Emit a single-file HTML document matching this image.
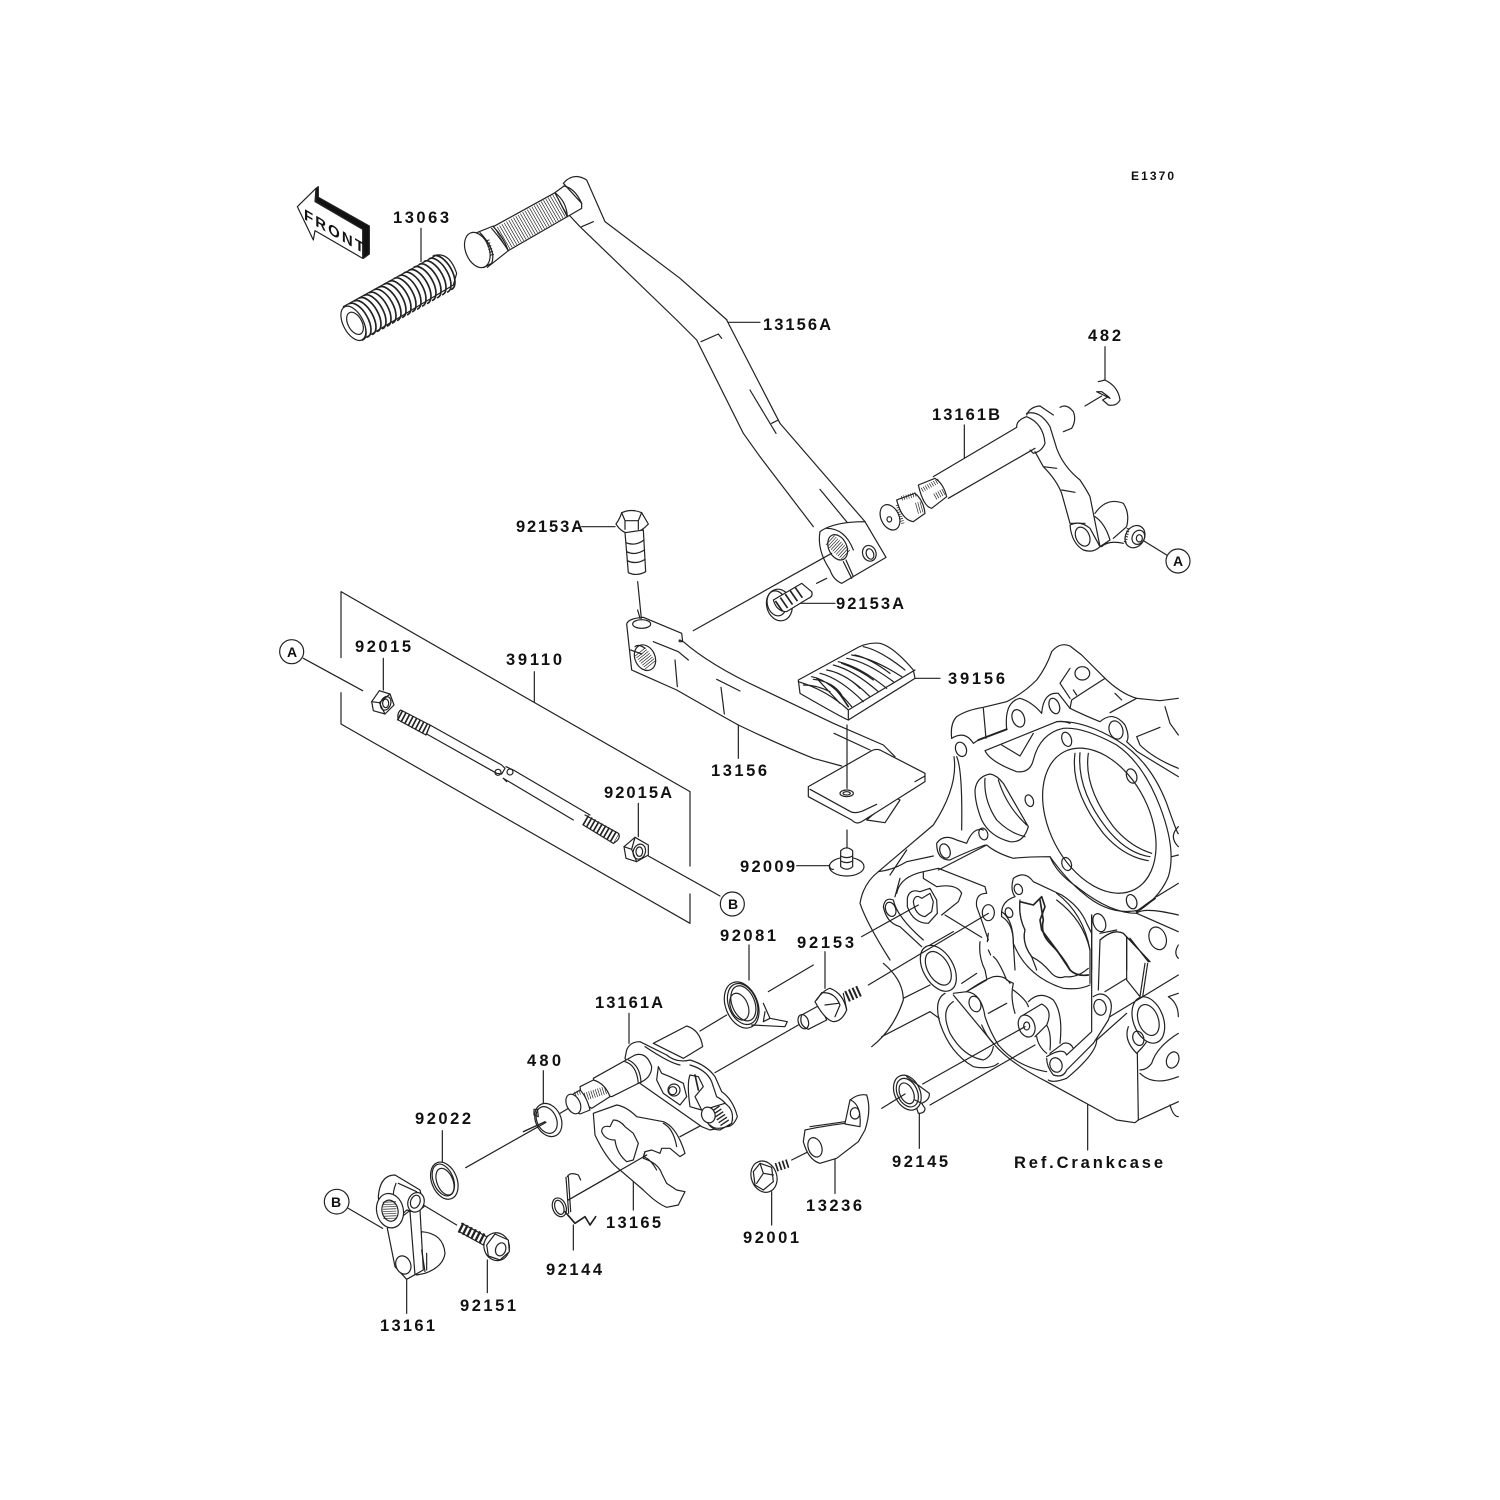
<!DOCTYPE html>
<html><head><meta charset="utf-8"><title>Gear Change Mechanism</title>
<style>
html,body{margin:0;padding:0;background:#fff}
svg{display:block;filter:blur(.35px)}
.p{fill:none;stroke:#222;stroke-width:3.6;stroke-linejoin:round;stroke-linecap:round}
.w{fill:#fff}
.p .h{fill:none;stroke:#222;stroke-linecap:butt}
text{font-family:"Liberation Sans",sans-serif;font-weight:bold;font-size:16.5px;fill:#111;stroke:none}
</style></head><body>
<svg xmlns="http://www.w3.org/2000/svg" width="1500" height="1500" viewBox="0 0 1500 1500">
<defs><path id="rb" d="M0,0a28,57 -30 0 1 55,100" fill="none" stroke="#222" stroke-width="5"/></defs>

<!-- crankcase (zoom 3) -->
<g transform="translate(850,630) scale(.33333)" class="p">
<path d="M305,325Q300,280 320,260Q350,240 400,232L470,215Q520,190 560,150Q590,110 605,65Q630,35 660,48L695,75L760,140Q810,190 860,205L930,212L985,205"/>
<path d="M400,235L408,325"/><path d="M385,330L470,298" stroke-width="6"/>
<path d="M305,325Q345,300 370,340L385,330M470,298Q462,215 510,205Q545,215 575,250Q580,185 625,190L660,235Q700,255 750,275Q790,240 825,285Q840,320 830,335L862,365L985,440"/>
<path d="M660,235L665,210L695,190L765,145M660,115L630,160L660,205M670,180L680,195M795,190L815,210M780,248L860,205M860,320L930,292M860,320L870,345Q910,385 985,415M945,230L960,280L985,315"/>
<ellipse cx="333" cy="358" rx="16" ry="22" transform="rotate(-20 333 358)"/><ellipse cx="505" cy="265" rx="18" ry="27" transform="rotate(-20 505 265)"/><ellipse cx="613" cy="228" rx="15" ry="24" transform="rotate(-20 613 228)"/><ellipse cx="697" cy="130" rx="22" ry="20"/><ellipse cx="798" cy="300" rx="20" ry="28" transform="rotate(-20 798 300)"/><ellipse cx="650" cy="328" rx="14" ry="22" transform="rotate(-20 650 328)"/><ellipse cx="845" cy="438" rx="15" ry="22" transform="rotate(-20 845 438)"/><ellipse cx="538" cy="512" rx="12" ry="18" transform="rotate(-20 538 512)"/><ellipse cx="400" cy="612" rx="13" ry="18" transform="rotate(-20 400 612)"/><ellipse cx="285" cy="663" rx="15" ry="22" transform="rotate(-20 285 663)"/><ellipse cx="650" cy="702" rx="14" ry="20" transform="rotate(-20 650 702)"/><ellipse cx="845" cy="815" rx="15" ry="22" transform="rotate(-20 845 815)"/><ellipse cx="748" cy="878" rx="18" ry="28" transform="rotate(-20 748 878)"/><ellipse cx="923" cy="925" rx="25" ry="35" transform="rotate(-20 923 925)"/><ellipse cx="122" cy="838" rx="15" ry="22" transform="rotate(-20 122 838)"/><ellipse cx="505" cy="778" rx="12" ry="16" transform="rotate(-20 505 778)"/><ellipse cx="477" cy="848" rx="11" ry="15" transform="rotate(-20 477 848)"/>
<path d="M405,362L620,275Q640,272 660,280M405,362Q420,395 500,425Q540,430 550,390Q570,310 640,295Q700,290 800,345Q880,400 930,530Q980,660 955,740Q930,800 870,840Q780,860 700,790Q650,750 600,680Q530,680 490,685Q440,670 410,645L265,720"/>
<path d="M860,845L915,805" stroke-width="6"/>
<path d="M455,345L510,378L550,310"/>
<path d="M600,680Q620,730 680,770Q780,850 860,850L985,905"/>
<path d="M620,275Q700,270 800,330Q900,390 950,520Q985,620 985,610M985,590Q955,620 985,650M965,680L985,675M920,800L985,760"/>
<ellipse cx="748" cy="572" rx="150" ry="232" transform="rotate(-27 748 572)"/>
<path d="M675,370Q660,480 760,610Q820,680 895,692M690,368Q680,480 770,595Q830,670 900,680M715,370Q700,470 790,590Q840,650 905,670"/>
<path d="M375,480Q380,440 420,432Q440,435 460,460L535,590Q520,640 480,635Q420,620 395,570Q375,520 375,480ZM405,445Q400,510 440,570Q480,610 525,620M445,450Q470,530 530,585"/>
<path d="M320,380Q338,420 335,600M312,380Q325,470 250,585L85,725M260,640Q280,610 320,630L350,640Q370,590 400,600M260,640Q260,690 300,690Q340,670 405,645M85,725Q130,720 170,695L250,678M120,735L170,660"/>
<path d="M85,725Q40,760 30,820Q50,880 120,990"/>
<path d="M140,790Q150,740 220,725L265,715L405,770L410,790Q375,790 380,830Q395,870 415,930M220,725L220,745L260,770Q320,760 335,790L325,815L275,855"/>
<path d="M172,805Q178,775 210,785L240,775L260,810L262,850L235,880Q190,880 172,830Z"/><path d="M190,815Q195,790 215,805L240,790L250,815L245,845L225,860Q195,855 190,815Z"/>
<path d="M100,830Q105,800 130,810Q140,860 220,930M100,830Q110,880 150,890L215,950M135,800L150,745"/>
<path d="M35,920L205,825M285,855L395,922"/>
<ellipse cx="415" cy="848" rx="18" ry="24"/>
<path d="M490,745Q525,720 550,755L635,795Q690,830 710,880L725,910M490,745Q480,780 495,800Q450,815 455,860Q490,880 490,940L495,1020M510,815Q505,860 525,900Q515,940 545,980L560,1020"/>
<path d="M510,815L550,825L575,800L585,830L570,870L575,900L620,960L660,1020" stroke-width="5"/>
<path d="M620,790Q700,850 720,960M725,855L725,1020M750,930Q790,895 820,910L900,995M830,920L830,1020M840,925L895,995"/>
</g>

<!-- crankcase (zoom 4) -->
<g transform="translate(850,900) scale(.33333)" class="p">
<ellipse cx="265" cy="205" rx="45" ry="75" transform="rotate(-30 265 205)"/><ellipse cx="265" cy="205" rx="32" ry="55" transform="rotate(-30 265 205)"/>
<path d="M55,255L415,40M240,135L310,95M335,250L380,220M350,275L410,240M415,340L470,310"/>
<path d="M95,410L240,335M160,295L240,255M160,300Q130,390 65,440M100,190Q160,240 160,300"/>
<path d="M285,280Q250,300 270,370Q300,460 370,500Q420,510 445,490M310,305Q270,330 300,400Q340,470 400,480Q425,470 430,440"/>
<path d="M310,285L430,430Q480,490 590,545L800,660L855,668L865,660L985,605"/>
<path d="M445,435Q500,500 590,515M240,335L268,355M395,375Q410,410 430,430"/>
<ellipse cx="375" cy="312" rx="17" ry="24" transform="rotate(-20 375 312)"/>
<path d="M310,280L350,275Q395,280 405,350Q420,395 445,435"/>
<path d="M495,340Q480,290 490,250L470,240Q445,180 430,170M415,100L412,125M415,150L422,165M390,125Q385,170 405,210L410,235M350,275Q400,240 430,230Q465,225 480,250M490,270Q530,300 535,320"/>
<path d="M520,345L575,312Q610,330 590,375L555,410M535,305Q570,270 610,300Q640,340 630,430M590,375Q605,400 600,450M560,410Q565,440 590,460"/>
<ellipse class="w" cx="530" cy="378" rx="24" ry="34" transform="rotate(-20 530 378)"/><ellipse cx="530" cy="378" rx="9" ry="12"/>
<path d="M240,615L555,435"/>
<ellipse cx="618" cy="495" rx="18" ry="22" transform="rotate(-20 618 495)"/>
<path d="M590,475Q590,500 610,525Q640,535 650,510L730,430Q750,400 775,360Q790,320 780,300Q760,270 730,290M590,470Q640,440 650,465L725,395L725,45M600,460L640,430Q660,425 670,445"/>
<ellipse cx="750" cy="322" rx="18" ry="24" transform="rotate(-15 750 322)"/>
<path d="M750,120Q790,85 820,100L900,185M830,110L830,240L870,290M885,190L870,290M893,190L878,290M840,115L895,185M765,275L830,235M780,350L985,225M750,120L745,270"/>
<path d="M830,340L740,420Q740,460 650,535Q610,550 595,540"/>
<ellipse cx="895" cy="360" rx="45" ry="72" transform="rotate(-20 895 360)"/><ellipse cx="895" cy="360" rx="30" ry="48" transform="rotate(-20 895 360)"/>
<path d="M835,380Q820,420 860,460Q880,440 890,425"/><ellipse cx="865" cy="415" rx="16" ry="22" transform="rotate(-20 865 415)"/>
<path d="M862,460L865,660M985,400Q920,440 905,490Q890,510 870,510M870,520Q910,560 985,530"/>
<ellipse cx="968" cy="480" rx="18" ry="25" transform="rotate(20 968 480)"/>
<path d="M985,280L955,290Q985,310 985,350M960,615Q970,650 985,650"/>
<path d="M455,35Q490,60 490,130Q530,230 640,265Q690,270 720,255M620,0Q700,60 720,150L720,250M510,0Q505,50 525,90Q515,130 545,170Q575,185 600,215Q620,240 645,230Q680,235 715,205"/>
<path d="M570,0L580,60Q570,100 600,130Q640,170 660,210Q680,230 715,225" stroke-width="5"/>
<path d="M985,135Q970,160 985,175M985,45Q880,20 860,40M750,100L800,90"/>
<path d="M713,615L713,750"/>
<!-- 92145 spring -->
<ellipse class="w" cx="172" cy="578" rx="38" ry="55" transform="rotate(-25 172 578)"/><ellipse cx="172" cy="578" rx="30" ry="45" transform="rotate(-25 172 578)"/><ellipse cx="170" cy="580" rx="20" ry="33" transform="rotate(-25 170 580)"/>
<path d="M170,530L238,580Q240,600 215,610L195,600M215,610L225,625Q225,640 205,640L200,625"/>
<path d="M95,625L165,582M218,552L525,380M208,640L208,745"/>
</g>

<!-- zoom 1: arrow, grip, peg -->
<g transform="translate(280,160) scale(.33333)" class="p">
<path d="M108,85L115,80L115,112L268,198L268,282L250,295L248,208L108,125Z" fill="#111"/>
<path class="w" d="M52,140L108,85L105,125L248,208L248,295L105,212L100,240Z"/>
<path d="M423,205L423,305"/>
<path class="w" d="M190,440L470,285Q510,280 530,340L520,375L245,540Q190,500 190,440Z"/>
<use href="#rb" x="193" y="440"/><use href="#rb" x="208" y="431"/><use href="#rb" x="223" y="423"/><use href="#rb" x="238" y="414"/><use href="#rb" x="253" y="406"/><use href="#rb" x="268" y="398"/><use href="#rb" x="283" y="389"/><use href="#rb" x="298" y="381"/><use href="#rb" x="313" y="372"/><use href="#rb" x="328" y="364"/><use href="#rb" x="343" y="355"/><use href="#rb" x="358" y="347"/><use href="#rb" x="373" y="338"/><use href="#rb" x="388" y="330"/><use href="#rb" x="403" y="321"/><use href="#rb" x="418" y="313"/><use href="#rb" x="433" y="304"/><use href="#rb" x="448" y="296"/><use href="#rb" x="460" y="288"/>
<ellipse class="w" cx="220" cy="490" rx="30" ry="56" transform="rotate(-28 220 490)"/><ellipse class="w" cx="225" cy="490" rx="21" ry="36" transform="rotate(-28 225 490)"/>
<!-- peg -->
<path d="M590,218L640,198M622,322L685,272M635,205Q665,240 685,272"/>
<ellipse class="w" cx="592" cy="270" rx="35" ry="55" transform="rotate(-22 592 270)"/>
<path d="M600,218Q650,270 635,310L610,323"/>
<path d="M640,200L825,98L862,170L685,272Q670,230 640,200"/>
<line x1="663" y1="238" x2="845" y2="133" class="h" stroke-width="76" stroke-dasharray="2 6"/>
<path d="M825,98Q860,125 862,170M825,98L852,78Q885,85 905,130L905,145L862,170"/>
<path d="M850,70Q880,35 920,60L975,185L1200,355L1341,480M850,70L905,130M870,168L900,200L1190,480M905,200L940,185"/>
<line x1="622" y1="240" x2="638" y2="290" class="h" stroke-width="12" stroke-dasharray="3 6"/>
</g>

<!-- zoom 2: lever, shaft -->
<g transform="translate(600,320) scale(.33333)" class="p">
<path d="M230,0L290,60L430,340L480,410L640,620M380,0L540,310L795,605"/>
<path d="M303,65L355,42M365,55L355,42M450,210L528,340M515,310L535,300M660,508L762,632L795,605"/>
<path class="w" d="M660,635Q700,605 795,605L858,712L725,790Q700,780 690,750Q650,690 660,635Z"/>
<path d="M680,625Q735,625 760,690"/>
<ellipse class="w" cx="713" cy="682" rx="27" ry="40" transform="rotate(-25 713 682)"/>
<line x1="690" y1="660" x2="738" y2="705" class="h" stroke-width="38" stroke-dasharray="2 5"/>
<ellipse cx="808" cy="700" rx="20" ry="24" transform="rotate(-20 808 700)"/><ellipse cx="810" cy="702" rx="11" ry="16" transform="rotate(-20 810 702)"/>
<path d="M730,725L755,775M738,720L760,770"/>
<path d="M280,932L695,700M650,790L680,775M385,7L480,7"/>
<path d="M113,785L124,895M600,850L705,850"/>
<!-- 92153A horizontal -->
<ellipse class="w" cx="538" cy="855" rx="38" ry="48" transform="rotate(-15 538 855)"/><ellipse cx="530" cy="850" rx="28" ry="38" transform="rotate(-15 530 850)"/>
<path class="w" d="M520,840L605,790L635,815Q640,830 625,835L560,875Q530,875 520,840Z"/>
<line x1="535" y1="860" x2="600" y2="815" class="h" stroke-width="38" stroke-dasharray="5 13"/>
<!-- top-left 92153A vertical -->
<path d="M-55,620L45,620"/>
<path class="w" d="M48,612Q60,595 65,578Q95,565 125,578Q135,595 145,612Q120,640 90,640Q65,640 48,612Z"/>
<path d="M65,578L75,602L115,602L125,578M75,602L75,628M115,602L115,628"/>
<path class="w" d="M75,638L130,630L137,755Q110,770 85,758Z"/>
<path d="M78,668Q105,680 132,660M80,695Q105,708 133,690M82,722Q108,735 135,718"/>
</g>

<!-- zoom 9: 13161B -->
<g transform="translate(860,320) scale(.33333)" class="p">
<path d="M313,315L313,415M220,470L470,322M265,535L525,385M735,80L735,180M675,258L725,228M850,662L920,705"/>
<path d="M715,185L735,180Q775,200 780,240Q770,260 745,255L728,240L745,230L750,235L730,225L710,215L725,215L745,230"/>
<path class="w" d="M175,495L225,475Q250,490 260,530L215,565Q190,560 175,495Z"/>
<line x1="186" y1="510" x2="240" y2="480" class="h" stroke-width="14" stroke-dasharray="2 5"/>
<line x1="225" y1="530" x2="252" y2="515" class="h" stroke-width="20" stroke-dasharray="2 5"/>
<path class="w" d="M110,540L165,520Q190,540 195,580L160,605Q125,600 110,540Z"/>
<line x1="125" y1="535" x2="170" y2="522" class="h" stroke-width="14" stroke-dasharray="2 5"/>
<line x1="170" y1="565" x2="188" y2="560" class="h" stroke-width="34" stroke-dasharray="2 5"/>
<ellipse class="w" cx="90" cy="592" rx="27" ry="40" transform="rotate(-25 90 592)"/><ellipse cx="88" cy="598" rx="7" ry="8"/>
<line x1="112" y1="555" x2="130" y2="615" class="h" stroke-width="10" stroke-dasharray="2 5"/>
<path d="M470,320Q470,300 500,290Q550,310 555,370Q545,395 520,400L510,390"/>
<path d="M500,285Q510,260 540,258L580,285M600,262Q620,250 640,275Q650,300 635,325L610,335"/>
<path d="M500,280Q540,270 570,320L590,385Q610,440 660,480Q680,510 690,530L720,680"/>
<path d="M525,395L550,440Q590,480 605,520L630,610M550,440L590,445M605,510L645,517M632,610L675,610"/>
<path class="w" d="M630,615Q660,600 690,625L720,680Q700,700 670,690Q635,670 630,615Z"/>
<ellipse cx="668" cy="650" rx="20" ry="30" transform="rotate(-25 668 650)"/>
<path d="M705,580Q740,530 790,550Q810,580 800,620L760,655M705,590Q735,610 750,660L720,680M725,680Q745,660 790,670"/>
<ellipse class="w" cx="825" cy="650" rx="28" ry="35" transform="rotate(30 825 650)"/><ellipse class="w" cx="835" cy="652" rx="18" ry="22" transform="rotate(30 835 652)"/><ellipse cx="838" cy="655" rx="9" ry="11"/>
<line x1="805" y1="625" x2="795" y2="670" class="h" stroke-width="9" stroke-dasharray="3 5"/>
</g>

<!-- zoom 8: rod and bracket -->
<g transform="translate(270,590) scale(.33333)" class="p">
<path d="M213,203L213,5L1260,605L1260,828M1260,912L1260,1000L213,402L213,308"/>
<path d="M100,205L278,302M340,205L340,300M793,245L793,335M1105,640L1105,740M1135,798L1350,918"/>
<circle cx="65" cy="185" r="36" class="w"/><circle cx="1387" cy="942" r="36" class="w"/>
<path class="w" d="M305,335L328,302L360,312L372,345L345,372L310,362Z"/><path d="M305,335L328,338L345,372M328,338L360,312"/><ellipse cx="347" cy="340" rx="15" ry="21" transform="rotate(20 347 340)"/><ellipse cx="347" cy="340" rx="9" ry="13"/>
<path d="M392,360L480,405L468,435L385,390Q380,370 392,360ZM470,432L480,405L695,525L705,535L695,552L680,550L470,432"/>
<line x1="388" y1="375" x2="475" y2="421" class="h" stroke-width="34" stroke-dasharray="5 7"/>
<circle cx="684" cy="547" r="9"/><circle cx="720" cy="546" r="9"/>
<path d="M708,530L730,540L960,675M700,565L910,690"/>
<path d="M700,565L710,575"/>
<path d="M945,675L1045,730Q1055,745 1030,760L940,705"/>
<line x1="945" y1="690" x2="1040" y2="745" class="h" stroke-width="34" stroke-dasharray="5 7"/>
<path class="w" d="M1062,770L1095,742L1135,765L1135,795L1100,815L1068,805Z"/><path d="M1062,770L1085,778L1100,815M1085,778L1095,742"/><ellipse cx="1108" cy="785" rx="18" ry="23" transform="rotate(20 1108 785)"/><ellipse cx="1108" cy="785" rx="10" ry="14"/>
</g>

<!-- zoom 7: lower lever, foot plate, rubber -->
<g transform="translate(600,610) scale(.33333)" class="p">
<path d="M80,42Q85,25 130,22L245,70L248,95Q235,85 238,95L250,95Q330,165 480,235L700,340L850,405L885,440M80,42L95,180L230,240L370,320L415,345Q540,405 640,445L725,468"/>
<ellipse cx="125" cy="42" rx="27" ry="13"/>
<ellipse class="w" cx="135" cy="143" rx="30" ry="40" transform="rotate(-25 135 143)"/>
<line x1="120" y1="125" x2="152" y2="165" class="h" stroke-width="40" stroke-dasharray="2 5"/>
<path d="M92,120L125,132M105,110Q115,100 135,115M160,95L235,125L265,150M225,150L232,230M350,208L420,243M363,232L373,312M702,370L810,420M415,345L415,445M113,0L120,25"/>
<path class="w" d="M800,630L855,638L900,570L880,560Z"/>
<path class="w" d="M625,530L810,425Q825,415 840,420L975,490L975,515L785,635Q770,645 755,630L625,560Z"/>
<path d="M630,538L752,605Q765,612 790,602L830,583M945,515L975,498"/>
<ellipse cx="740" cy="550" rx="20" ry="10"/><ellipse cx="740" cy="550" rx="11" ry="5"/>
<path d="M741,345L741,535M741,660L741,715M590,767L690,767M945,205L1020,205"/>
<!-- rubber -->
<path class="w" d="M595,210L760,120Q800,95 840,100Q880,110 940,180L945,205L745,330Q730,325 600,250Z"/>
<path d="M595,215Q680,240 745,300L745,330M745,300L945,180"/>
<path d="M635,200Q690,210 755,290M640,208Q700,215 725,255M680,180Q740,190 810,260M690,182Q740,195 780,235M715,155Q780,170 860,235M725,160Q780,180 820,210M755,135Q820,145 905,200M765,135Q810,145 870,190M790,110Q840,120 915,180M610,225Q650,225 690,245M650,205L720,280M660,190Q720,205 790,275M700,165Q760,180 835,245M740,145Q800,155 880,215"/>
<path d="M700,230Q720,250 745,290" stroke-width="5"/>
<!-- 92009 -->
<ellipse class="w" cx="740" cy="770" rx="52" ry="28"/>
<path d="M688,765Q690,780 700,778"/>
<path class="w" d="M722,722Q740,705 758,722L758,770Q740,785 722,770Z"/>
<path d="M722,738Q740,748 758,738M722,753Q740,763 758,753"/>
</g>

<!-- zoom 5: shift parts -->
<g transform="translate(530,950) scale(.33333)" class="p">
<path d="M510,243L590,195M555,368L805,225M715,125L850,45M450,560L525,520M115,750L350,615M90,490L115,475M-20,545L45,515M785,630L835,605"/>
<path d="M297,190L297,280M40,362L40,465M310,680L310,780M915,625L915,730M725,725L725,825M130,825L130,900M657,-15L657,90M885,5L885,115"/>
<!-- spring 92081 -->
<ellipse class="w" cx="635" cy="165" rx="48" ry="72" transform="rotate(-22 635 165)"/>
<ellipse cx="638" cy="162" rx="42" ry="64" transform="rotate(-22 638 162)"/><ellipse cx="640" cy="160" rx="34" ry="55" transform="rotate(-22 640 160)"/><ellipse cx="628" cy="170" rx="26" ry="42" transform="rotate(-22 628 170)"/>
<path d="M700,160L720,205L772,215L765,230L665,225M705,185L700,215L720,205"/>
<!-- 92153 bolt -->
<path class="w" d="M815,195L870,165L890,210L835,238Q805,225 815,195Z"/><ellipse cx="820" cy="215" rx="15" ry="22" transform="rotate(-20 820 215)"/>
<line x1="950" y1="140" x2="990" y2="122" class="h" stroke-width="34" stroke-dasharray="6 6"/>
<path class="w" d="M855,155Q880,120 900,115Q940,130 950,180Q935,215 910,215Q885,210 855,155Z"/>
<path d="M875,128Q915,125 930,165L915,200M875,128L860,150M885,165L925,160M940,130L950,178"/>
<!-- lever plate -->
<path class="w" d="M370,280L470,228Q510,240 518,290L460,325Z"/>
<path class="w" d="M285,325L290,300Q300,275 330,275L410,315Q440,340 480,330Q530,345 555,380L575,425Q610,450 622,500Q610,530 590,530L540,540L515,530L330,400Z"/>
<path d="M345,290Q420,340 450,345M480,345Q530,360 545,395L560,440Q600,460 608,510"/>
<path d="M385,350L380,390L400,430L450,465L470,440L460,400L420,380L395,370Z"/><circle cx="432" cy="420" r="18"/><circle cx="428" cy="422" r="12"/>
<path d="M480,375Q470,400 480,470L515,480L495,440L520,410L505,380Z"/>
<path d="M495,375L505,420" stroke-width="5"/>
<!-- pin -->
<path class="w" d="M520,480L585,460Q615,480 605,520L570,540Q530,540 520,480Z"/>
<line x1="555" y1="475" x2="585" y2="520" class="h" stroke-width="30" stroke-dasharray="4 6"/>
<ellipse class="w" cx="535" cy="495" rx="20" ry="24" transform="rotate(-20 535 495)"/>
<path d="M540,525Q560,545 600,525"/>
<!-- shaft -->
<path class="w" d="M190,385L315,315Q350,305 365,350Q365,385 325,400L245,440Q200,430 190,385Z"/>
<path d="M285,335Q320,345 325,400M295,330Q330,345 333,397"/>
<path class="w" d="M150,410L190,390Q225,400 240,440L185,475Q155,460 150,410Z"/>
<line x1="165" y1="440" x2="228" y2="420" class="h" stroke-width="24" stroke-dasharray="2 5"/>
<path class="w" d="M125,435L150,420Q170,440 180,480L150,492Q120,480 125,435Z"/>
<line x1="135" y1="432" x2="155" y2="425" class="h" stroke-width="14" stroke-dasharray="2 5"/>
<ellipse class="w" cx="130" cy="462" rx="20" ry="31" transform="rotate(-25 130 462)"/>
<!-- plate 13165 -->
<path class="w" d="M190,490L260,465Q290,470 320,500L400,515Q440,530 465,610L450,620L420,595L395,595L390,610L365,600L345,605L340,625Q385,640 395,670L410,700L440,720L465,725L445,765L410,772Q380,760 340,720L270,660Q230,630 195,555Z"/>
<path d="M215,545Q215,525 240,530L250,510Q270,510 285,530L310,550L325,580L310,630L290,635Q260,610 255,570Q225,570 215,545Z"/>
<path d="M345,605L340,620Q360,625 380,660M400,520Q430,535 440,590"/>
<path d="M115,750L350,615"/>
<!-- 92144 -->
<path d="M112,680Q120,665 145,675L152,690M108,682L116,790M115,680L122,785"/>
<ellipse cx="88" cy="772" rx="20" ry="29" transform="rotate(-20 88 772)"/><ellipse cx="88" cy="772" rx="13" ry="22" transform="rotate(-20 88 772)"/>
<path d="M105,785L135,820L165,800L180,825L197,800" stroke-width="5"/>
<!-- 480 -->
<ellipse class="w" cx="55" cy="510" rx="38" ry="52" transform="rotate(-25 55 510)"/><ellipse class="w" cx="50" cy="510" rx="29" ry="42" transform="rotate(-25 50 510)"/>
<path d="M12,478L22,478L25,500L12,495Z"/>
<path d="M-20,545L45,515"/>
<!-- 13236 -->
<path class="w" d="M825,540Q870,530 945,520L960,450Q985,430 1010,435Q1025,480 1005,540L985,575L920,625L870,640Q835,630 820,575Z"/>
<ellipse cx="855" cy="592" rx="20" ry="30" transform="rotate(-20 855 592)"/><ellipse cx="975" cy="490" rx="14" ry="17"/>
<path d="M962,450Q995,465 990,530L945,522M840,530L945,515" />
<!-- 92001 -->
<line x1="738" y1="652" x2="775" y2="640" class="h" stroke-width="26" stroke-dasharray="5 6"/>
<ellipse class="w" cx="702" cy="680" rx="38" ry="48" transform="rotate(-20 702 680)"/>
<path class="w" d="M670,665L690,640L725,652L730,695L700,720L675,705Z"/>
<path d="M690,640L700,670L730,675M700,670L680,700"/>
</g>

<!-- zoom 6: 13161 arm etc -->
<g transform="translate(310,1090) scale(.33333)" class="p">
<path d="M115,355L218,415M397,122L397,220M467,233L708,97M340,345L440,405M532,510L532,608M290,570L290,670"/>
<circle cx="80" cy="335" r="37" class="w"/>
<ellipse class="w" cx="403" cy="272" rx="38" ry="58" transform="rotate(-22 403 272)"/><ellipse cx="400" cy="270" rx="30" ry="50" transform="rotate(-22 400 270)"/><ellipse cx="405" cy="275" rx="24" ry="42" transform="rotate(-22 405 275)"/>
<path class="w" d="M335,425Q400,430 405,490Q400,530 345,550L320,555Z"/>
<path class="w" d="M232,415L255,530L290,568L340,540L330,360L295,365Z"/>
<ellipse class="w" cx="280" cy="525" rx="22" ry="28" transform="rotate(-22 280 525)"/>
<path d="M300,365L315,555M335,480L345,545M350,490L350,540"/>
<path class="w" d="M205,320Q210,255 255,255L330,300L342,350Q320,370 290,360L240,410Q210,390 205,320Z"/>
<path d="M258,280Q248,305 250,325M265,280L320,305"/>
<ellipse class="w" cx="240" cy="362" rx="40" ry="52" transform="rotate(-12 240 362)"/>
<ellipse class="w" cx="240" cy="362" rx="24" ry="32" transform="rotate(-12 240 362)"/>
<line x1="238" y1="335" x2="240" y2="390" class="h" stroke-width="40" stroke-dasharray="2 5"/>
<ellipse class="w" cx="318" cy="337" rx="24" ry="30" transform="rotate(20 318 337)"/><ellipse cx="316" cy="335" rx="14" ry="20" transform="rotate(20 316 335)"/>
<path d="M455,400L530,440M448,425L520,465"/>
<line x1="450" y1="412" x2="530" y2="452" class="h" stroke-width="32" stroke-dasharray="7 7"/>
<ellipse class="w" cx="560" cy="470" rx="38" ry="42" transform="rotate(-15 560 470)"/>
<path class="w" d="M530,465L555,432L595,450L598,485L570,510L535,498Z"/>
<ellipse cx="572" cy="478" rx="15" ry="20" transform="rotate(20 572 478)"/>
</g>

<!-- labels -->
<g>
<text x="393" y="223" textLength="56" lengthAdjust="spacing">13063</text>
<text x="763" y="330" textLength="68" lengthAdjust="spacing">13156A</text>
<text x="1088" y="341" textLength="33" lengthAdjust="spacing">482</text>
<text x="932" y="420" textLength="68" lengthAdjust="spacing">13161B</text>
<text x="516" y="532" textLength="67" lengthAdjust="spacing">92153A</text>
<text x="836" y="609" textLength="68" lengthAdjust="spacing">92153A</text>
<text x="948" y="684" textLength="57" lengthAdjust="spacing">39156</text>
<text x="355" y="652" textLength="56" lengthAdjust="spacing">92015</text>
<text x="506" y="665" textLength="56" lengthAdjust="spacing">39110</text>
<text x="711" y="776" textLength="56" lengthAdjust="spacing">13156</text>
<text x="604" y="798" textLength="68" lengthAdjust="spacing">92015A</text>
<text x="740" y="872" textLength="55" lengthAdjust="spacing">92009</text>
<text x="720" y="941" textLength="56" lengthAdjust="spacing">92081</text>
<text x="797" y="948" textLength="57" lengthAdjust="spacing">92153</text>
<text x="595" y="1008" textLength="68" lengthAdjust="spacing">13161A</text>
<text x="527" y="1066" textLength="34" lengthAdjust="spacing">480</text>
<text x="415" y="1124" textLength="56" lengthAdjust="spacing">92022</text>
<text x="606" y="1228" textLength="55" lengthAdjust="spacing">13165</text>
<text x="546" y="1275" textLength="56" lengthAdjust="spacing">92144</text>
<text x="743" y="1243" textLength="56" lengthAdjust="spacing">92001</text>
<text x="806" y="1211" textLength="56" lengthAdjust="spacing">13236</text>
<text x="892" y="1167" textLength="56" lengthAdjust="spacing">92145</text>
<text x="1014" y="1168" textLength="149" lengthAdjust="spacing">Ref.Crankcase</text>
<text x="460" y="1311" textLength="56" lengthAdjust="spacing">92151</text>
<text x="380" y="1331" textLength="55" lengthAdjust="spacing">13161</text>
<text x="1131" y="180" textLength="43" lengthAdjust="spacing" style="font-size:12px">E1370</text>
<text x="1178" y="566" text-anchor="middle" style="font-size:14px">A</text>
<text x="292" y="657" text-anchor="middle" style="font-size:14px">A</text>
<text x="733" y="909" text-anchor="middle" style="font-size:14px">B</text>
<text x="336" y="1207" text-anchor="middle" style="font-size:14px">B</text>
<text transform="translate(304,219) skewY(30)" textLength="60" lengthAdjust="spacing" style="font-size:15px">FRONT</text>
</g>
<circle cx="1178" cy="561" r="12" fill="none" stroke="#222" stroke-width="1.2"/>
</svg>
</body></html>
